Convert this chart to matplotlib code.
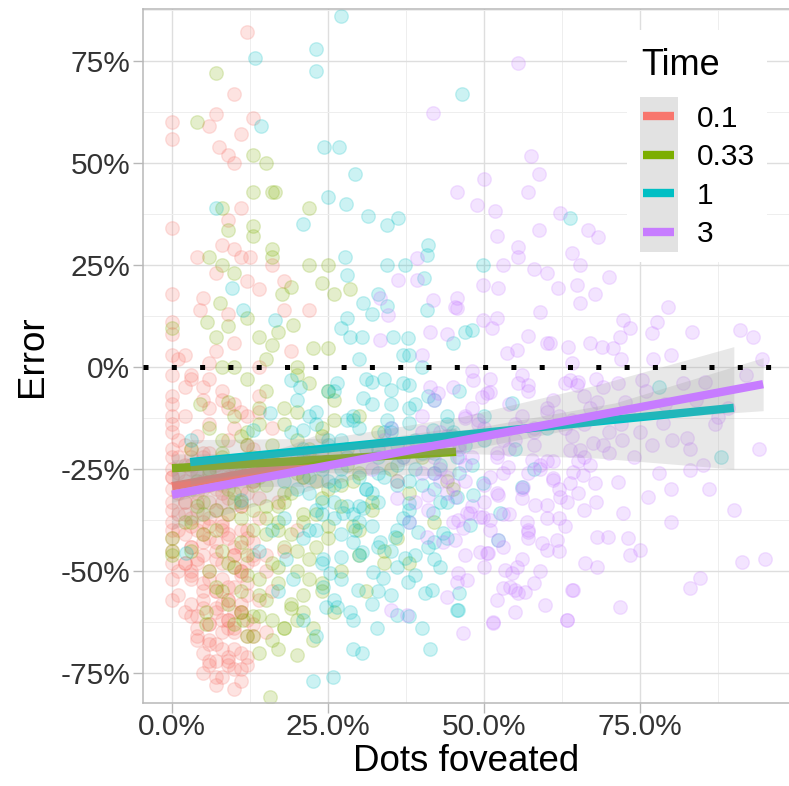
import numpy as np
import matplotlib
matplotlib.use('Agg')
import matplotlib.pyplot as plt
from matplotlib.patches import Rectangle
from matplotlib.lines import Line2D
from matplotlib.ticker import FixedLocator

plt.rcParams['font.family'] = ['Liberation Sans', 'DejaVu Sans']

# ---------------- data ----------------
time_labels = ['0.1', '0.33', '1', '3']
time_colors = ['#F8766D', '#7CAE00', '#00BFC4', '#C77CFF']

# values in percent
red_x = [12, 10, 0, 0, 7, 6, 13, 11, 7.5, 9, 10, 11, 9, 0, 8, 10, 4, 11, 12.5, 16,
         7, 12, 14, 18, 0, 5, 4.5, 9, 18, 22, 0, 10, 19, 0, 2, 6, 14, 3, 0, 0,
         5, 8, 2, 0, 0, 6, 11, 4, 9, 0, 3, 7, 13, 1, 5, 10, 15, 0, 2, 4,
         8, 12, 0, 0, 3, 6, 9, 11, 14, 2, 5, 7, 10, 13, 0, 0, 4, 8, 11, 3,
         6, 9, 12, 15, 1, 5, 8, 10, 14, 3, 6, 9, 12, 4, 7, 10, 13, 6, 9, 12,
         7, 11, 16, 18, 17, 20, 15, 2, 6, 8, 10, 7, 11, 9, 5, 3, 12, 2,
         1, 3, 5, 7, 9, 11, 13, 2, 4, 6, 8, 10, 12, 3, 5, 7, 9, 11, 4, 6, 8, 10, 1, 2, 0, 0, 0]
red_y = [82, 67, 60, 56, 62, 59, 61, 57, 54, 52, 50, 39, 36, 34, 30, 29, 27, 27, 27, 25,
         23, 21, 19, 21, 18, 17, 14, 13, 14, 14, 11, 6, 4, 8, 3, 1, 0, -3, -7, -9,
         -5, -8, -12, -12, -14, -14, -11, -17, -18, -20, -22, -24, -20, -26, -28, -27, -24, -30, -33, -31,
         -33, -31, -35, -38, -37, -39, -36, -40, -37, -41, -43, -45, -44, -46, -42, -45, -48, -48, -50, -52,
         -52, -54, -53, -50, -56, -57, -58, -60, -57, -61, -63, -64, -62, -66, -68, -69, -66, -72, -73, -71,
         -76, -77, -55, -45, -33, -40, -65, -19, -33, -40, -49, -55, -58, -62, -46, -44, -42, -48,
         -22, -25, -21, -30, -24, -34, -28, -36, -40, -42, -38, -46, -48, -50, -55, -59, -57, -60, -64, -67, -62, -65, -50, -60, -25, -2, 3]
red_x_dense = [1, 2, 3, 4, 5, 6, 7, 8, 9, 10, 11, 12, 13, 14,
               1, 2, 3, 4, 5, 6, 7, 8, 9, 10, 11, 12, 13,
               2, 3, 4, 5, 6, 7, 8, 9, 10, 11, 12,
               3, 4, 5, 6, 7, 8, 9, 10, 11, 12, 13,
               4, 5, 6, 7, 8, 9, 10, 11, 12,
               5, 6, 7, 8, 9, 10, 11,
               0, 0, 0, 0, 0, 0, 0, 0,
               6, 8, 10, 12, 14, 16,
               1, 3, 5, 7, 9]
red_y_dense = [-18, -24, -20, -26, -22, -29, -25, -31, -27, -23, -30, -26, -28, -32,
               -36, -33, -39, -35, -41, -37, -43, -39, -42, -46, -44, -40, -47,
               -48, -51, -47, -53, -50, -55, -52, -57, -54, -51, -56,
               -58, -61, -59, -63, -60, -65, -62, -64, -60, -66, -63,
               -67, -70, -68, -72, -69, -71, -74, -70, -73,
               -75, -73, -78, -76, -72, -79, -74,
               -16, -22, -27, -33, -40, -48, -52, -57,
               -3, -6, -9, -12, -7, -15,
               2, -2, -8, 4, -10]
red_x_band = [0, 1, 2, 3, 4, 5, 6, 7, 8, 9, 10, 11, 12,
              1, 3, 5, 7, 9, 11, 13, 15,
              2, 6, 10, 14]
red_y_band = [-27, -31, -28, -24, -33, -30, -21, -35, -29, -32, -24, -34, -19,
              -40, -44, -38, -47, -41, -50, -43, -46,
              -5, -10, -15, -11]

green_x = [7, 4, 13, 15, 13, 16, 16.5, 8, 22, 13, 13, 9, 16, 16, 6, 8, 22, 25, 10, 19,
           24, 17.6, 26, 28.5, 7.7, 5.6, 9, 0, 7, 14, 16, 19.4, 22.6, 25, 17, 4.5, 9, 8, 10, 20,
           12, 15, 18, 22, 26, 30, 6, 11, 14, 20, 24, 28, 33, 3, 8, 16, 21, 27, 35, 40,
           5, 10, 13, 18, 23, 29, 32, 38, 44, 7, 11, 15, 20, 25, 30, 36, 9, 12, 17, 22,
           27, 14, 19, 24, 8, 11, 16, 21, 5.4, 5.4, 11.4, 18, 22.6, 22.6, 17, 14, 20, 15.7, 0, 0,
           0, 2, 3, 6, 13, 26, 31, 34, 42, 45, 38, 9, 12, 17, 4]
green_y = [72, 60, 52, 50, 43, 43, 43, 39, 39, 34.5, 32, 33.6, 29, 27, 27, 25, 25, 25, 23, 19.6,
           20.5, 18, 18, 19, 15.6, 11, 10, 9.5, 7.4, 7.4, 5.4, 10.3, 4.6, 4.6, 8.6, -9, -8.6, 0, 0, 0,
           -3, -6, -10, -4, -8, -12, -15, -17, -14, -18, -15, -20, -16, -20, -22, -23, -27, -29, -25, -22,
           -33, -31, -35, -33, -36, -39, -33, -31, -28, -40, -43, -41, -45, -42, -46, -42, -48, -51, -49, -52,
           -50, -56, -58, -55, -55, -60, -62, -60, -60, -63, -62, -64, -64, -67, -69, -70, -70.6, -81, -42, -45,
           -46, -38, -45, -50, -66, -60, -55, -48, -38, -30, -48, -28, -24, -38, -28]
green_x_dense = [10, 12, 14, 16, 18, 20, 22, 24, 26, 28,
                 11, 13, 15, 17, 19, 21, 23, 25, 27, 29,
                 9, 11, 13, 15, 17, 19, 21, 23, 25,
                 8, 10, 12, 14, 16, 18, 20, 22, 24,
                 7, 9, 11, 13, 15, 17, 19, 21,
                 10, 12, 14, 16, 18, 20,
                 3, 5, 6, 8, 30, 32, 34, 36,
                 15, 20, 25, 12]
green_y_dense = [-12, -16, -10, -19, -14, -11, -21, -17, -13, -24,
                 -26, -22, -29, -25, -31, -27, -23, -30, -34, -28,
                 -36, -33, -40, -37, -34, -41, -38, -44, -39,
                 -45, -49, -46, -52, -48, -44, -50, -47, -53,
                 -54, -58, -55, -61, -57, -53, -59, -56,
                 -63, -66, -61, -67, -64, -62,
                 -30, -36, -25, -18, -40, -35, -45, -28,
                 2, -2, -6, 12]
green_x_band = [2, 4, 6, 8, 10, 12, 14, 16, 18, 20, 22, 24,
                3, 5, 7, 9, 11, 13, 15, 17, 19, 21, 23,
                26, 30]
green_y_band = [-30, -34, -26, -21, -33, -19, -27, -22, -31, -26, -20, -32,
                -38, -41, -35, -30, -37, -29, -34, -40, -24, -36, -28,
                -21, -26]

cyan_x = [27, 23, 13.3, 23, 46.5, 14.3, 24.4, 26.8, 29.3, 7, 25, 27.9, 21, 31.4, 34.5, 36.2, 9.6, 27.7, 28, 34.5,
          37.3, 40.9, 40.4, 30.6, 32, 34.5, 40.9, 11.4, 16.5, 27, 28.5, 30.4, 35.4, 37.8, 45, 47, 49.8, 63.8, 48,
          25.8, 29, 30.4, 41.3, 40, 32.9, 45.6, 36, 28.5, 29.8, 26.4, 40.5, 41.6, 46, 37.8, 33.8, 32.2, 43, 37.3, 30.4,
          27, 47.8, 43.4, 39.4, 35.7, 33.3, 29.3, 30.6, 27.4, 33, 38, 41.8, 49.8, 48.2, 45.6, 54.5, 35, 30.6, 32, 26.4,
          38, 40, 34.5, 38, 41.8, 45.6,
          19, 20.5, 21, 23, 22, 24.2, 25.3, 24.2, 18.3, 19.4, 24.7, 22.6, 2.2, 11, 13, 15.7,
          56, 52.6, 52.2, 45.8,
          22, 25, 28, 30, 33, 36, 39, 42, 44, 27, 31, 35, 38, 24, 26, 29, 20, 18, 16, 14,
          17, 21, 23, 3, 78, 88, 60, 50]
cyan_y = [86, 78, 75.7, 72.5, 67, 59, 54, 54, 47.3, 39, 41.7, 40, 35, 37, 34.8, 36.5, 19.3, 27, 22.5, 25,
          25, 27.5, 21.8, 15.7, 13, 15, 14, 14, 11.5, 9.5, 7.4, 7.4, 7.4, 7, 5.9, 8.6, 25, 36.5, 9,
          -76, -69, -70, -69, -64, -64, -59.6, -60.8, -60, -54.7, -58.8, -55.4, -54.7, -55.4, -52.7, -51.7, -50.2, -49, -46.8, -45.3,
          -46.6, -38.7, -40.7, -40.4, -41.7, -42.9, -40, -34.6, -35.8, -33, -33.3, -35.8, -28.4, -31.4, -31.9, -8.8, -5.6, -7.6, -3.7, -3.9,
          -4.4, 0, -13, -13.7, -15.4, -22,
          -3.2, -4.9, -15.4, -35, -40, -47, -50.5, -54, -47, -52, -58.8, -77, -45.6, -32.6, -15.4, -11.3,
          -29.4, -35.8, -42.4, -59.6,
          -12, -18, -22, -15, -20, -24, -18, -26, -12, -28, -30, -9, -28, -25, -33, -36, -22, -28, -40, -45,
          -55, -62, -66, -18, -5, -22, -15, -18]
cyan_x_dense = [20, 23, 26, 29, 32, 35, 38, 41, 44, 47,
                21, 24, 27, 30, 33, 36, 39, 42, 45, 48,
                22, 25, 28, 31, 34, 37, 40, 43, 46,
                23, 26, 29, 32, 35, 38, 41, 44,
                24, 27, 30, 33, 36, 39, 42,
                26, 29, 32, 35, 38,
                30, 34, 38, 42, 46, 50, 55, 58,
                28, 33, 37, 41]
cyan_y_dense = [-8, -11, -6, -13, -9, -16, -10, -7, -14, -19,
                -20, -24, -18, -27, -22, -19, -25, -21, -17, -24,
                -31, -28, -34, -30, -27, -37, -29, -33, -26,
                -40, -37, -43, -39, -45, -38, -44, -42,
                -48, -52, -46, -55, -49, -51, -47,
                -57, -62, -58, -56, -61,
                2, -3, 3, -8, -6, -12, -20, -25,
                12, 18, 3, 30]
cyan_x_band = [19, 21, 23, 25, 27, 29, 31, 33, 35, 37, 39, 41, 43, 45,
               20, 22, 24, 26, 28, 30, 32, 34, 36, 38, 40, 42, 44,
               18, 21, 24, 27, 30, 33, 36, 39, 42,
               25, 31, 37]
cyan_y_band = [-16, -21, -14, -19, -25, -12, -20, -26, -15, -22, -9, -18, -24, -16,
               -30, -27, -33, -29, -13, -34, -31, -16, -29, -35, -21, -30, -33,
               -37, -42, -36, -41, -38, -44, -40, -46, -43,
               -6, -3, -4]

purple_x = [55.4, 41.8, 45.7, 57.5, 58.8, 49.9, 57, 48.9, 51.8, 62.2, 58.8, 66.7, 68.3, 55.4, 55.4, 53, 65.4, 60, 49.8, 52.3,
            45.7, 45.3, 61.9, 64.9, 67.8, 65.4, 59, 79.5, 49.8, 51.3, 57, 72.3, 73.4, 77.7, 76.9, 83.3, 91, 93, 60.6, 63.5,
            67, 68.9, 70.7, 71.8, 53.7, 55.3,
            57, 65, 71.5, 75.3, 81.9, 85.4, 68.1, 72.6, 87.5, 78.7, 80.1, 82.5, 76.9, 72.1, 67.5, 63.8, 65.4, 83, 64.3, 65.9,
            67.8, 71.5, 76.3, 72.3, 68.1, 69.9, 73.1, 75, 73.4, 66.2, 68.1, 91.3, 84.6, 83, 71.8, 64.3, 59.8, 63.3, 51.4, 46.6,
            54.2, 55.4, 56.6, 53.4, 55.3, 60, 61.7, 59.3, 57, 56.9, 58.2, 60, 62.2, 63.3, 63.8, 61, 57.7, 53.8, 52.2, 49.8,
            51, 47.8, 45.4, 50.5, 52.2, 53, 45.8, 55.4, 51, 49.7, 47,
            50.5, 48.2, 63.8, 64.9, 61, 56.3, 52, 47.3, 49.4, 41, 40, 45.4, 45.8, 46.6, 40.9, 43.4, 57, 49.4, 50.6, 54.5,
            45.6, 47.3, 44, 55, 35, 37.7, 51.4, 63.3, 64.1, 41.3, 42.6,
            39.3, 36.2, 39.3, 41.8, 45.7, 33.3, 34.6, 41.3, 33.3, 95,
            47, 50, 53, 56, 60, 58, 62, 66, 70, 35, 38, 42, 44, 32, 36, 40, 43, 46,
            74, 78, 86, 89, 92, 94, 80, 77, 94.5]
purple_y = [74.5, 62.3, 43, 51.7, 47.3, 46, 43, 39.7, 38.2, 37.7, 33.6, 33.6, 31.9, 29.4, 27, 25, 25, 23, 20, 19.3,
            16.9, 14.7, 19.3, 20, 18, 15.6, 13.5, 14.7, 11.5, 9.5, 7.6, 11.5, 9.5, 11, 8.3, 8.6, 9, 7.4, 5.9, 4.9,
            5.9, 4.9, 4.6, 7.4, 3.4, 4.2,
            -4.4, -3.7, -3.9, -3.2, -3.9, -3.7, -8.6, -8.6, -12.3, -13.7, -17.9, -17.4, -19, -17.9, -18.6, -20.3, -20.3, -25.2, -25.7, -26.5,
            -28.4, -28.2, -31.9, -35.8, -41.7, -41.7, -41.9, -44.9, -46, -48, -49, -47.8, -51.7, -54.2, -58.8, -54.7, -58.3, -62, -62.7, -65.2,
            -53.9, -55.4, -55.1, -49.8, -49, -44.9, -42.4, -43.1, -40, -38, -33.8, -33.8, -31.9, -33, -28.4, -27.7, -22.8, -24.5, -31.4, -36.8,
            -37.5, -35.8, -42.4, -45.6, -42.4, -54.2, -50.5, -3.9, -6.1, -7.4, -12.5,
            -6.4, -3.2, -3.2, -4.4, -27.2, -29.4, -30.9, -35.8, -36.8, -31.4, -26, -31.9, -37.5, -39.5, -41.7, -42.9, -40.4, -45.3, -45.6, -50.5,
            -52.7, -52.2, -56.4, -54.7, -59.6, -60.8, -62.5, -62, -54.7, -4.9, -6.4,
            26.7, 21.3, 21.3, 16.4, 14.5, 16.9, 12.7, 8.6, 6.6, -47,
            -12, -15, -18, -12, -10, -16, -12, -14, -12, -15, -20, -22, -17, -25, -32, -12, -28, -22,
            -22, -26, -30, -10, -2, -20, -38, 2, 2]
purple_x_dense = [42, 45, 48, 51, 54, 57, 60, 63, 66, 69, 72,
                  43, 46, 49, 52, 55, 58, 61, 64, 67, 70,
                  44, 47, 50, 53, 56, 59, 62, 65, 68,
                  45, 48, 51, 54, 57, 60, 63, 66,
                  47, 50, 53, 56, 59, 62,
                  52, 55, 58,
                  40, 44, 48, 52, 56, 60, 64, 68, 72, 76, 80, 84,
                  70, 75, 80, 85, 90,
                  52, 58, 64]
purple_y_dense = [-8, -5, -10, -3, -9, -6, -11, -4, -7, -5, -14,
                  -16, -20, -14, -22, -18, -15, -23, -17, -24, -21,
                  -27, -24, -29, -26, -32, -25, -30, -23, -33,
                  -38, -34, -40, -36, -42, -37, -39, -35,
                  -46, -49, -44, -47, -50, -45,
                  -57, -60, -53,
                  3, 8, -1, 12, -2, 6, 1, -3, 2, -6, 3, -8,
                  22, 28, -30, -24, -35,
                  32, 24, 28]
purple_x_band = [34, 37, 40, 43, 46, 49, 52, 55, 58, 61, 64, 67, 70, 73,
                 36, 39, 42, 45, 48, 51, 54, 57, 60, 63, 66, 69,
                 38, 41, 44, 47, 50, 53, 56, 59, 62, 65,
                 75, 79, 83, 87]
purple_y_band = [-18, -22, -16, -25, -19, -13, -21, -14, -19, -8, -13, -10, -16, -11,
                 -28, -33, -26, -29, -22, -27, -20, -26, -23, -15, -22, -19,
                 -38, -35, -31, -28, -33, -36, -30, -24, -37, -31,
                 -16, -9, -20, -14]

series_x = [red_x + red_x_dense + red_x_band,
            green_x + green_x_dense + green_x_band,
            cyan_x + cyan_x_dense + cyan_x_band,
            purple_x + purple_x_dense + purple_x_band]
series_y = [red_y + red_y_dense + red_y_band,
            green_y + green_y_dense + green_y_band,
            cyan_y + cyan_y_dense + cyan_y_band,
            purple_y + purple_y_dense + purple_y_band]

# linear fits (fractions)
fit_x_start = [0.0, 0.0, 0.029, 0.0]
fit_x_end = [0.25, 0.455, 0.90, 0.947]
fit_y_start = [-0.292, -0.248, -0.233, -0.313]
fit_y_end = [-0.225, -0.208, -0.100, -0.042]
# confidence band half-widths at 5 evenly spaced positions along each fit
band_halfwidth = [
    [0.040, 0.030, 0.035, 0.050, 0.070],
    [0.035, 0.025, 0.030, 0.045, 0.060],
    [0.055, 0.025, 0.045, 0.090, 0.150],
    [0.085, 0.050, 0.025, 0.022, 0.065],
]

x_ticks = [0.0, 0.25, 0.50, 0.75]
x_tick_labels = ['0.0%', '25.0%', '50.0%', '75.0%']
y_ticks = [-0.75, -0.50, -0.25, 0.0, 0.25, 0.50, 0.75]
y_tick_labels = ['-75%', '-50%', '-25%', '0%', '25%', '50%', '75%']
x_minor = [0.125, 0.375, 0.625, 0.875]
y_minor = [-0.625, -0.375, -0.125, 0.125, 0.375, 0.625, 0.875]

# ---------------- figure ----------------
W, H = 789, 786
fig = plt.figure(figsize=(W / 100, H / 100), dpi=100)
ax = fig.add_axes([143 / W, 1 - 703 / H, 647 / W, 694 / H])
ax.set_xlim(-0.0465, 0.990)
ax.set_ylim(-0.8235, 0.8775)

ax.xaxis.set_major_locator(FixedLocator(x_ticks))
ax.yaxis.set_major_locator(FixedLocator(y_ticks))
ax.xaxis.set_minor_locator(FixedLocator(x_minor))
ax.yaxis.set_minor_locator(FixedLocator(y_minor))
ax.set_xticklabels(x_tick_labels)
ax.set_yticklabels(y_tick_labels)
ax.grid(which='major', color='#dedede', lw=1.0, zorder=0)
ax.grid(which='minor', color='#eeeeee', lw=0.7, zorder=0)
ax.set_axisbelow(True)

for sp in ax.spines.values():
    sp.set_color('#b8b8b8')
    sp.set_linewidth(1.1)

ax.tick_params(which='major', length=7, width=1, color='#b8b8b8',
               labelsize=21.5, labelcolor='#333333')
ax.tick_params(which='minor', length=0)
ax.tick_params(axis='x', pad=0.5)
ax.tick_params(axis='y', pad=2)

# points
for xs, ys, col in zip(series_x, series_y, time_colors):
    ax.scatter(np.array(xs) / 100, np.array(ys) / 100, s=95, facecolor=col,
               edgecolor=col, linewidths=1.0, alpha=0.2, zorder=2)

# smooths (band then line, in group order)
for i, col in enumerate(time_colors):
    x0, x1 = fit_x_start[i], fit_x_end[i]
    y0, y1 = fit_y_start[i], fit_y_end[i]
    kx = np.linspace(x0, x1, len(band_halfwidth[i]))
    ky = y0 + (y1 - y0) * (kx - x0) / (x1 - x0)
    hw = np.array(band_halfwidth[i])
    ax.fill_between(kx, ky - hw, ky + hw, color='#999999', alpha=0.22,
                    linewidth=0, zorder=3 + i * 0.1)
    ax.plot([x0, x1], [y0, y1], color=col, lw=6, solid_capstyle='butt',
            zorder=3.05 + i * 0.1)

# dotted reference line at 0
ax.axhline(0, color='black', lw=3.6, linestyle=(0, (1, 4.66)),
           dash_capstyle='butt', zorder=4)

ax.set_xlabel('Dots foveated', fontsize=26.5, labelpad=2, color='black')
ax.set_ylabel('Error', fontsize=26.5, labelpad=8, color='black')

# ---------------- legend (inside panel, top right) ----------------
def fx(px):
    return px / W


def fy(py):
    return 1 - py / H


fig.add_artist(Rectangle((fx(627), fy(262)), fx(767) - fx(627), fy(30) - fy(262),
                         transform=fig.transFigure, facecolor='white',
                         edgecolor='none', zorder=5))
fig.text(fx(641), fy(75), 'Time', fontsize=26, ha='left', va='baseline',
         color='black', zorder=6)
fig.add_artist(Rectangle((fx(640), fy(252)), fx(678) - fx(640), fy(97) - fy(252),
                         transform=fig.transFigure, facecolor='#e2e2e2',
                         edgecolor='none', zorder=6))
row_y = [116, 154.5, 193, 231.5]
for lab, col, ry in zip(time_labels, time_colors, row_y):
    fig.add_artist(Line2D([fx(643), fx(674)], [fy(ry), fy(ry)], transform=fig.transFigure,
                          color=col, lw=6, solid_capstyle='butt', zorder=7))
    fig.text(fx(697), fy(ry + 10.7), lab, fontsize=21.5, ha='left', va='baseline',
             color='black', zorder=7)

fig.savefig('out.png', dpi=100)
